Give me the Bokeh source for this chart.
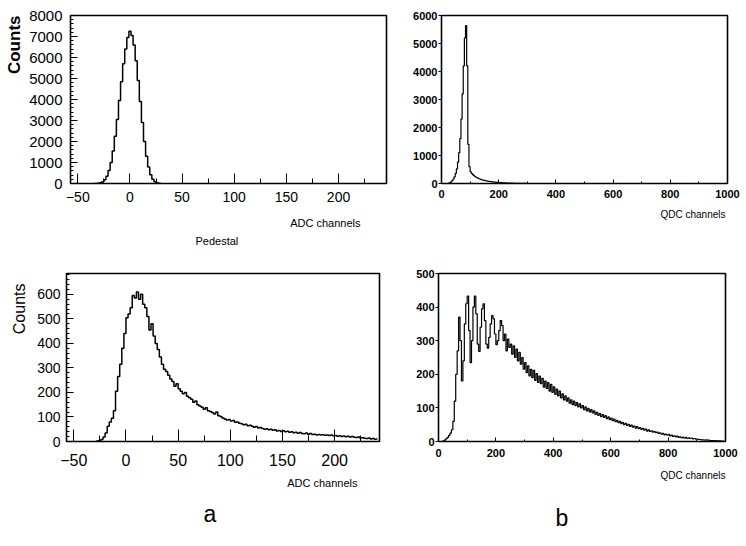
from bokeh.plotting import figure
from bokeh.layouts import column, row
from bokeh.models import Range1d, SingleIntervalTicker, Title
from bokeh.embed import file_html
from bokeh.resources import INLINE

# ---------------- data ----------------
# (a) top: pedestal, ADC channels (bin width 2)
ped_x = [-34, -32, -30, -28, -26, -24, -22, -20, -18, -16, -14, -12, -10, -8, -6, -4, -2,
         0, 2, 4, 6, 8, 10, 12, 14, 16, 18, 20, 22, 24, 26, 28, 30]
ped_counts = [0, 0, 10, 30, 80, 180, 350, 620, 1000, 1550, 2250, 3050, 3950, 4850, 5700, 6400, 6950,
              7250, 7050, 6600, 5850, 4900, 3900, 2900, 2000, 1300, 780, 420, 200, 80, 30, 10, 0]

# (a) bottom: signal, ADC channels (bin width 2, first centre -29)
adc_x = [-29 + 2 * i for i in range(136)]
adc_counts = [
    0, 2, 4, 8, 18,
    35, 62, 80, 95, 125,
    205, 265, 315, 380, 440,
    505, 520, 545, 595, 585,
    610, 580, 600, 560, 545,
    510, 455, 480, 430, 400,
    375, 345, 315, 295, 285,
    270, 255, 245, 225, 235,
    215, 205, 195, 200, 185,
    178, 172, 160, 165, 150,
    145, 140, 132, 138, 125,
    122, 118, 112, 120, 105,
    102, 96, 92, 88, 90,
    84, 86, 78, 80, 74,
    72, 68, 70, 64, 66,
    62, 58, 61, 55, 57,
    53, 50, 52, 48, 50,
    46, 48, 43, 45, 41,
    44, 40, 42, 38, 40,
    36, 38, 34, 37, 33,
    32, 35, 30, 33, 29,
    30, 27, 29, 26, 28,
    25, 27, 24, 26, 23,
    24, 21, 23, 20, 22,
    19, 21, 18, 20, 17,
    16, 18, 14, 15, 13,
    12, 14, 10, 12, 9,
    10,
]

# (b) top: QDC channels (bin width 4)
qped_x = [4 * i + 2 for i in range(75)]
qped_counts = [
    0, 0, 0, 0, 0, 0, 10, 30, 60, 100,
    160, 240, 360, 520, 760, 1100, 1600, 2300, 3200, 4200,
    5200, 5640, 4200, 1400, 600, 420, 360, 320, 280, 250,
    220, 200, 180, 160, 145, 130, 120, 110, 100, 92,
    85, 78, 72, 66, 60, 55, 50, 46, 42, 38,
    35, 32, 29, 26, 24, 22, 20, 18, 16, 14,
    12, 11, 10, 9, 8, 7, 6, 5, 4, 4,
    3, 2, 2, 1, 0,
]

# (b) bottom: QDC channels (bin width 5)
qdc_x = [5 * i + 2.5 for i in range(200)]
qdc_counts = [
    0, 0, 0, 2, 4,
    8, 12, 18, 25, 35,
    60, 120, 200, 270, 370,
    300, 180, 240, 350, 410,
    433, 330, 235, 300, 400,
    433, 380, 290, 268, 340,
    395, 410, 360, 290, 278,
    310, 350, 375, 365, 320,
    288, 300, 330, 360, 345,
    300, 320, 270, 305, 280,
    290, 260, 285, 250, 275,
    240, 265, 230, 250, 215,
    235, 205, 225, 195, 215,
    190, 212, 182, 202, 176,
    195, 172, 188, 162, 180,
    158, 175, 150, 170, 146,
    163, 140, 156, 136, 150,
    130, 142, 124, 136, 120,
    130, 114, 124, 110, 120,
    107, 116, 103, 112, 100,
    107, 95, 103, 91, 99,
    88, 95, 85, 91, 81,
    87, 78, 83, 74, 80,
    72, 77, 68, 73, 65,
    70, 62, 67, 59, 63,
    56, 60, 53, 57, 50,
    54, 48, 51, 45, 49,
    43, 46, 40, 44, 38,
    41, 36, 39, 34, 37,
    31, 35, 30, 32, 28,
    30, 26, 28, 24, 26,
    22, 24, 20, 22, 19,
    21, 17, 19, 15, 17,
    14, 16, 12, 14, 11,
    13, 10, 12, 9, 11,
    9, 10, 8, 9, 7,
    7, 6, 6, 5, 5,
    4, 5, 4, 4, 3,
    3, 3, 2, 3, 2,
    2, 2, 1, 1, 0,
]

ADC_LABEL = "ADC channels"
QDC_LABEL = "QDC channels"
Y_LABEL = "Counts"

FONT = "Liberation Sans"


def base(width, height, xr, yr, left, right, top, bottom):
    p = figure(width=width, height=height, x_range=Range1d(*xr), y_range=Range1d(*yr),
               output_backend="svg", toolbar_location=None,
               min_border_left=left, min_border_right=right,
               min_border_top=top, min_border_bottom=bottom)
    p.grid.visible = False
    p.outline_line_color = "black"
    p.outline_line_width = 1.6
    p.background_fill_color = "white"
    p.border_fill_color = "white"
    for ax in p.axis:
        ax.axis_line_color = None
        ax.major_tick_line_color = "black"
        ax.minor_tick_line_color = "black"
        ax.major_label_text_font = FONT
        ax.major_label_text_color = "black"
    return p


def side_text(p, place, text, size, align, offset, standoff, style="normal"):
    p.add_layout(Title(text=text, align=align, offset=offset, standoff=standoff,
                       text_font=FONT, text_font_size=size, text_font_style=style,
                       text_color="black"), place)


# ---------------- (a) top ----------------
tl = base(394, 267, (-57, 246), (0, 8000), 70, 8, 15, 81)
tl.xaxis.ticker = SingleIntervalTicker(interval=50, num_minor_ticks=2)
tl.yaxis.ticker = SingleIntervalTicker(interval=1000, num_minor_ticks=5)
tl.xaxis.major_tick_in = 10
tl.xaxis.major_tick_out = 0
tl.xaxis.minor_tick_in = 5
tl.xaxis.minor_tick_out = 0
tl.yaxis.major_tick_in = 7
tl.yaxis.major_tick_out = 0
tl.yaxis.minor_tick_in = 3
tl.yaxis.minor_tick_out = 0
tl.xaxis.major_label_text_font_size = "14px"
tl.yaxis.major_label_text_font_size = "15px"
tl.xaxis.major_label_standoff = 8
tl.yaxis.major_label_standoff = 8
tl.step(ped_x, ped_counts, mode="center", line_color="black", line_width=1.5)
side_text(tl, "below", ADC_LABEL, "11px", "right", 26, 21)
side_text(tl, "below", "Pedestal", "11px", "left", 125, -15)
side_text(tl, "left", Y_LABEL, "17px", "right", 0, 5, style="bold")

# ---------------- (b) top ----------------
tr = base(348, 267, (0, 1000), (0, 6000), 47, 15, 13, 84)
tr.xaxis.ticker = SingleIntervalTicker(interval=200, num_minor_ticks=2)
tr.yaxis.ticker = SingleIntervalTicker(interval=1000, num_minor_ticks=2)
tr.xaxis.major_tick_in = 4
tr.xaxis.major_tick_out = 0
tr.xaxis.minor_tick_in = 2
tr.xaxis.minor_tick_out = 0
tr.yaxis.major_tick_in = 0
tr.yaxis.major_tick_out = 3
tr.yaxis.minor_tick_in = 0
tr.yaxis.minor_tick_out = 0
tr.xaxis.major_label_text_font_size = "11px"
tr.yaxis.major_label_text_font_size = "11px"
tr.xaxis.major_label_text_font_style = "bold"
tr.yaxis.major_label_text_font_style = "bold"
tr.xaxis.major_label_standoff = 6
tr.yaxis.major_label_standoff = 1
tr.step(qped_x, qped_counts, mode="center", line_color="black", line_width=1.2)
side_text(tr, "below", QDC_LABEL, "10px", "right", 2, 13)

# ---------------- (a) bottom ----------------
bl = base(394, 279, (-57, 243), (0, 685), 66, 15, 6, 103)
bl.xaxis.ticker = SingleIntervalTicker(interval=50, num_minor_ticks=2)
bl.yaxis.ticker = SingleIntervalTicker(interval=100, num_minor_ticks=5)
bl.xaxis.major_tick_in = 12
bl.xaxis.major_tick_out = 0
bl.xaxis.minor_tick_in = 6
bl.xaxis.minor_tick_out = 0
bl.yaxis.major_tick_in = 7
bl.yaxis.major_tick_out = 0
bl.yaxis.minor_tick_in = 3
bl.yaxis.minor_tick_out = 0
bl.xaxis.major_label_text_font_size = "16px"
bl.yaxis.major_label_text_font_size = "14px"
bl.xaxis.major_label_standoff = 12
bl.yaxis.major_label_standoff = 6
bl.step(adc_x, adc_counts, mode="center", line_color="black", line_width=1.5)
side_text(bl, "below", ADC_LABEL, "11px", "right", 22, 13)
side_text(bl, "below", "a", "23px", "left", 137, 7)
side_text(bl, "left", Y_LABEL, "16px", "right", 10, 14)

# ---------------- (b) bottom ----------------
br = base(348, 279, (0, 1000), (0, 500), 44, 17, 5, 105)
br.xaxis.ticker = SingleIntervalTicker(interval=200, num_minor_ticks=2)
br.yaxis.ticker = SingleIntervalTicker(interval=100, num_minor_ticks=2)
br.xaxis.major_tick_in = 4
br.xaxis.major_tick_out = 0
br.xaxis.minor_tick_in = 2
br.xaxis.minor_tick_out = 0
br.yaxis.major_tick_in = 0
br.yaxis.major_tick_out = 3
br.yaxis.minor_tick_in = 0
br.yaxis.minor_tick_out = 0
br.xaxis.major_label_text_font_size = "11px"
br.yaxis.major_label_text_font_size = "11px"
br.xaxis.major_label_text_font_style = "bold"
br.yaxis.major_label_text_font_style = "bold"
br.xaxis.major_label_standoff = 7
br.yaxis.major_label_standoff = 1
br.step(qdc_x, qdc_counts, mode="center", line_color="black", line_width=1.2)
side_text(br, "below", QDC_LABEL, "10px", "right", 0, 17)
side_text(br, "below", "b", "23px", "left", 117, 26)

layout = column(row(tl, tr), row(bl, br))
open("out.html", "w").write(file_html(layout, INLINE))
